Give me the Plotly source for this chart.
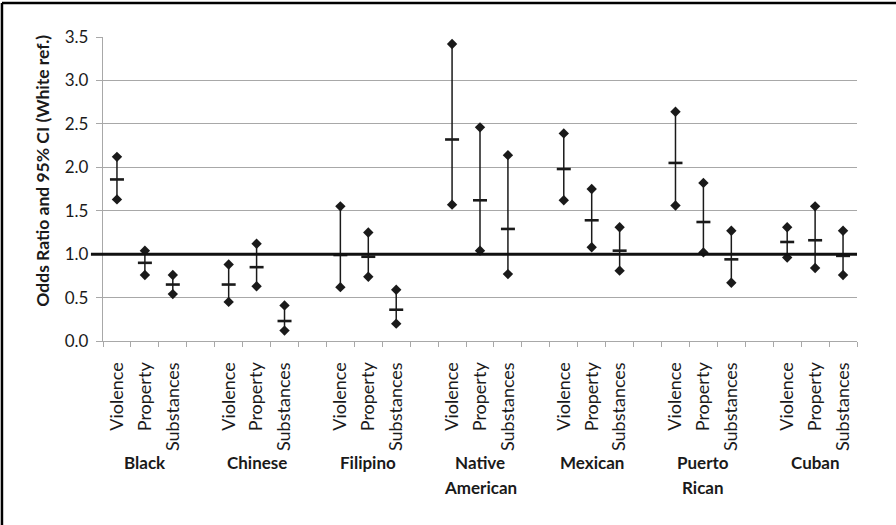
import plotly.graph_objects as go

# ---------------- data ----------------
groups = ["Black", "Chinese", "Filipino", "Native\nAmerican", "Mexican", "Puerto\nRican", "Cuban"]
outcomes = ["Violence", "Property", "Substances"]

odds_ratio = [1.86, 0.90, 0.65,
              0.65, 0.85, 0.23,
              0.99, 0.97, 0.36,
              2.32, 1.62, 1.29,
              1.98, 1.39, 1.04,
              2.05, 1.37, 0.94,
              1.14, 1.16, 0.98]
ci_low = [1.63, 0.76, 0.54,
          0.45, 0.63, 0.12,
          0.62, 0.74, 0.20,
          1.57, 1.04, 0.77,
          1.62, 1.08, 0.81,
          1.56, 1.02, 0.67,
          0.96, 0.84, 0.76]
ci_high = [2.12, 1.04, 0.76,
           0.88, 1.12, 0.41,
           1.55, 1.25, 0.59,
           3.42, 2.46, 2.14,
           2.39, 1.75, 1.31,
           2.64, 1.82, 1.27,
           1.31, 1.55, 1.27]
reference_value = 1.0
y_tick_values = [0.0, 0.5, 1.0, 1.5, 2.0, 2.5, 3.0, 3.5]

# ---------------- layout helpers ----------------
FONT = "Lato"
GRID = "#a8a8a8"
INK = "#1a1a1a"
n_out = len(outcomes)
slot = n_out + 1  # one blank category between groups

xs, labels = [], []
for g in range(len(groups)):
    for k in range(n_out):
        xs.append(g * slot + k)
        labels.append(outcomes[k])
n_slots = len(groups) * slot - 1

fig = go.Figure()

# CI whiskers
line_x, line_y = [], []
for x, lo, hi in zip(xs, ci_low, ci_high):
    line_x += [x, x, None]
    line_y += [lo, hi, None]
fig.add_trace(go.Scatter(x=line_x, y=line_y, mode="lines",
                         line=dict(color=INK, width=1.5), hoverinfo="skip", showlegend=False))
# CI end diamonds
fig.add_trace(go.Scatter(x=xs + xs, y=ci_low + ci_high, mode="markers",
                         marker=dict(symbol="diamond", size=8, color=INK),
                         showlegend=False))
# odds ratio dash
fig.add_trace(go.Scatter(x=xs, y=odds_ratio, mode="markers",
                         marker=dict(symbol="line-ew", size=10,
                                     line=dict(color=INK, width=2.6)),
                         showlegend=False))

# reference line at 1.0 (extends slightly left of the axis)
fig.add_shape(type="line", xref="paper", yref="y", x0=-0.016, x1=1.0,
              y0=reference_value, y1=reference_value,
              line=dict(color="#111111", width=3))

# outer frame (top and left edges visible)
fig.add_shape(type="line", xref="paper", yref="paper", x0=-0.134, x1=1.1,
              y0=1.112, y1=1.112, line=dict(color="black", width=2.5))
fig.add_shape(type="line", xref="paper", yref="paper", x0=-0.134, x1=-0.134,
              y0=1.112, y1=-0.62, line=dict(color="black", width=2.5))

# group labels
for g, name in enumerate(groups):
    cx = g * slot + (n_out - 1) / 2
    for j, part in enumerate(name.split("\n")):
        fig.add_annotation(x=cx, xref="x", xanchor="center", y=0, yref="paper",
                           yanchor="middle", yshift=-121 - 25 * j,
                           text="<b>%s</b>" % part, showarrow=False,
                           font=dict(family=FONT, size=17, color=INK))

# y-axis title
fig.add_annotation(x=-0.0796, xref="paper", xanchor="center", y=0.56, yref="paper",
                   yanchor="middle", text="<b>Odds Ratio and 95% CI (White ref.)</b>",
                   textangle=-90, showarrow=False,
                   font=dict(family=FONT, size=17.5, color=INK))

fig.update_layout(
    width=896, height=525,
    margin=dict(l=103, r=39, t=37, b=184),
    paper_bgcolor="white", plot_bgcolor="white",
    font=dict(family=FONT, color=INK),
    showlegend=False,
    xaxis=dict(range=[-0.5, n_slots - 0.5], tickmode="array", tickvals=xs, ticktext=labels,
               tickangle=-90, ticks="", showgrid=False, zeroline=False,
               showline=True, linecolor=GRID, linewidth=1.3,
               tickfont=dict(family=FONT, size=18, color=INK),
               ticklabelstandoff=13,
               minor=dict(tickmode="linear", tick0=-0.5, dtick=1, ticks="outside",
                          ticklen=5, tickcolor=GRID, tickwidth=1.2, showgrid=False)),
    yaxis=dict(range=[0, 3.5], tickmode="array", tickvals=y_tick_values,
               tickformat=".1f", showgrid=True, gridcolor=GRID, gridwidth=1.3,
               zeroline=False, showline=True, linecolor=GRID, linewidth=1.3,
               ticks="outside", ticklen=6, tickcolor=GRID, tickwidth=1.2,
               ticklabelstandoff=4,
               tickfont=dict(family=FONT, size=17, color=INK)),
)

fig.write_html("out.html", config={"displayModeBar": False},
               post_script="document.body.style.margin='0';")
